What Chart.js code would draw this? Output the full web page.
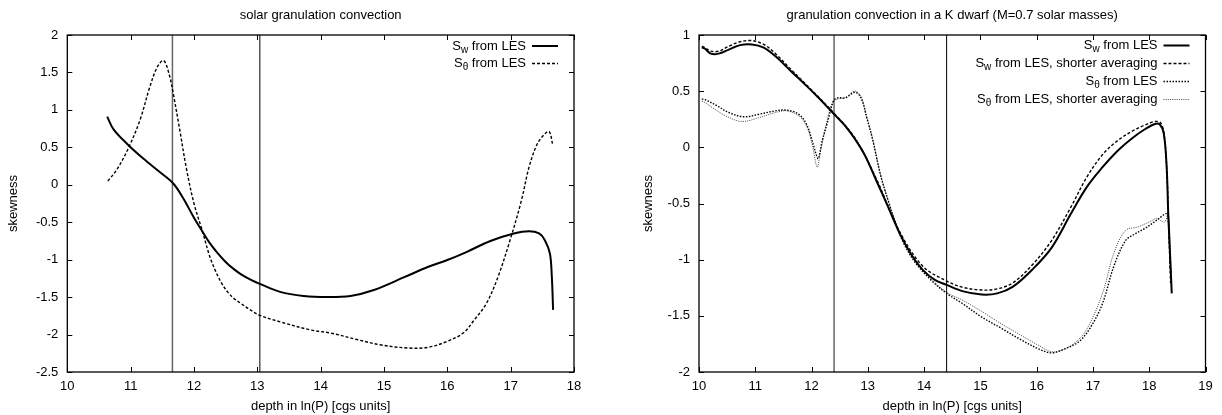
<!DOCTYPE html>
<html><head><meta charset="utf-8">
<script src="https://cdn.jsdelivr.net/npm/chart.js@4.4.1/dist/chart.umd.min.js"></script>
<style>
html,body{margin:0;padding:0;background:#fff;}
#wrap{position:relative;width:1222px;height:415px;overflow:hidden;}
.c{position:absolute;top:0;width:611px;height:415px;}
</style></head><body>
<div id="wrap">
<div class="c" style="left:0"><canvas id="left" width="611" height="415"></canvas></div>
<div class="c" style="left:611px"><canvas id="right" width="611" height="415"></canvas></div>
</div>
<script>
// ---------- texts ----------
const leftTitle = 'solar granulation convection';
const rightTitle = 'granulation convection in a K dwarf (M=0.7 solar masses)';
const xAxisTitle = 'depth in ln(P) [cgs units]';
const yAxisTitle = 'skewness';
const labelSw = 'S_{w} from LES';
const labelSw2 = 'S_{w} from LES, shorter averaging';
const labelSt = 'S_{θ} from LES';
const labelSt2 = 'S_{θ} from LES, shorter averaging';

// ---------- ticks ----------
const leftXTicks = [10, 11, 12, 13, 14, 15, 16, 17, 18];
const leftYTicks = [-2.5, -2, -1.5, -1, -0.5, 0, 0.5, 1, 1.5, 2];
const rightXTicks = [10, 11, 12, 13, 14, 15, 16, 17, 18, 19];
const rightYTicks = [-2, -1.5, -1, -0.5, 0, 0.5, 1];

// ---------- vertical markers ----------
const leftVLines = [11.66, 13.04];
const rightVLines = [12.40, 14.40];

// ---------- left panel: solar ----------
const leftSwX = [10.63, 10.73, 10.97, 11.2, 11.46, 11.67, 11.83, 12.0, 12.13, 12.25, 12.38, 12.5, 12.62, 12.75, 12.9, 13.03, 13.36, 13.73, 14.1, 14.47, 14.84, 15.33, 15.7, 16.0, 16.31, 16.68, 17.05, 17.29, 17.45, 17.54, 17.62, 17.65, 17.67];
const leftSwY = [0.91, 0.74, 0.525, 0.35, 0.17, 0.02, -0.18, -0.44, -0.62, -0.78, -0.92, -1.03, -1.12, -1.2, -1.27, -1.32, -1.43, -1.485, -1.50, -1.485, -1.405, -1.23, -1.095, -1.005, -0.895, -0.75, -0.65, -0.62, -0.65, -0.74, -0.92, -1.23, -1.67];
const leftStX = [10.64, 10.78, 10.96, 11.15, 11.3, 11.42, 11.52, 11.61, 11.67, 11.77, 11.88, 12.0, 12.13, 12.25, 12.35, 12.44, 12.53, 12.62, 12.75, 12.87, 13.03, 13.36, 13.85, 14.16, 14.59, 14.96, 15.39, 15.7, 16.0, 16.25, 16.43, 16.62, 16.8, 16.99, 17.17, 17.29, 17.42, 17.54, 17.61, 17.66];
const leftStY = [0.05, 0.2, 0.48, 0.87, 1.3, 1.57, 1.66, 1.47, 1.23, 0.76, 0.22, -0.25, -0.61, -0.96, -1.17, -1.32, -1.43, -1.51, -1.59, -1.66, -1.74, -1.83, -1.94, -1.98, -2.07, -2.14, -2.18, -2.17, -2.09, -1.98, -1.80, -1.58, -1.23, -0.74, -0.21, 0.235, 0.545, 0.68, 0.71, 0.55];

// ---------- right panel: K dwarf ----------
const rightSwX = [10.05, 10.1, 10.21, 10.35, 10.53, 10.73, 10.94, 11.15, 11.36, 11.63, 11.91, 12.12, 12.29, 12.43, 12.6, 12.77, 12.95, 13.15, 13.36, 13.57, 13.78, 13.98, 14.19, 14.4, 14.68, 15.02, 15.3, 15.58, 15.92, 16.27, 16.61, 16.89, 17.17, 17.44, 17.72, 17.93, 18.1, 18.19, 18.26, 18.31, 18.34, 18.38, 18.4];
const rightSwY = [0.89, 0.88, 0.834, 0.834, 0.87, 0.91, 0.916, 0.888, 0.81, 0.68, 0.547, 0.443, 0.354, 0.28, 0.19, 0.075, -0.073, -0.295, -0.53, -0.77, -0.96, -1.093, -1.18, -1.225, -1.28, -1.31, -1.30, -1.24, -1.09, -0.89, -0.59, -0.354, -0.177, -0.03, 0.09, 0.163, 0.208, 0.202, 0.12, -0.177, -0.62, -1.06, -1.30];
const rightSw2X = [10.05, 10.1, 10.21, 10.35, 10.53, 10.73, 10.94, 11.15, 11.36, 11.63, 11.91, 12.12, 12.43, 12.77, 13.15, 13.57, 13.98, 14.4, 14.68, 15.02, 15.3, 15.58, 15.92, 16.27, 16.61, 16.89, 17.17, 17.44, 17.72, 17.93, 18.1, 18.2, 18.26, 18.31, 18.35, 18.38];
const rightSw2Y = [0.9, 0.89, 0.856, 0.856, 0.9, 0.94, 0.95, 0.916, 0.834, 0.695, 0.556, 0.45, 0.287, 0.083, -0.28, -0.755, -1.06, -1.19, -1.245, -1.27, -1.26, -1.205, -1.048, -0.826, -0.53, -0.266, -0.065, 0.06, 0.15, 0.2, 0.23, 0.22, 0.13, -0.177, -0.77, -1.21];
const rightStX = [10.05, 10.1, 10.32, 10.53, 10.8, 11.08, 11.36, 11.56, 11.77, 11.91, 12.01, 12.08, 12.12, 12.19, 12.29, 12.39, 12.46, 12.6, 12.77, 12.88, 12.98, 13.09, 13.22, 13.36, 13.5, 13.64, 13.85, 14.12, 14.4, 14.68, 15.02, 15.37, 15.71, 16.06, 16.27, 16.47, 16.75, 16.96, 17.17, 17.37, 17.58, 17.75, 17.93, 18.13, 18.31, 18.34, 18.38];
const rightStY = [0.43, 0.426, 0.37, 0.31, 0.272, 0.296, 0.325, 0.331, 0.296, 0.207, 0.06, -0.06, -0.1, 0.06, 0.236, 0.414, 0.44, 0.44, 0.49, 0.44, 0.266, 0.06, -0.236, -0.473, -0.68, -0.857, -1.03, -1.18, -1.30, -1.39, -1.51, -1.61, -1.71, -1.80, -1.83, -1.80, -1.73, -1.60, -1.39, -1.06, -0.83, -0.77, -0.72, -0.65, -0.59, -0.65, -1.12];
const rightSt2X = [10.05, 10.1, 10.32, 10.53, 10.77, 11.08, 11.36, 11.56, 11.77, 11.91, 12.01, 12.1, 12.15, 12.25, 12.36, 12.46, 12.6, 12.77, 12.88, 12.98, 13.09, 13.22, 13.36, 13.5, 13.64, 13.85, 14.12, 14.4, 14.68, 15.02, 15.37, 15.71, 16.06, 16.27, 16.47, 16.68, 16.89, 17.17, 17.37, 17.58, 17.79, 18.0, 18.13, 18.27, 18.34, 18.38, 18.4];
const rightSt2Y = [0.41, 0.40, 0.326, 0.266, 0.23, 0.266, 0.31, 0.325, 0.28, 0.19, 0.03, -0.177, -0.06, 0.177, 0.384, 0.43, 0.443, 0.5, 0.45, 0.27, 0.065, -0.23, -0.47, -0.68, -0.84, -1.02, -1.17, -1.29, -1.36, -1.46, -1.57, -1.67, -1.77, -1.82, -1.80, -1.74, -1.62, -1.30, -0.945, -0.74, -0.71, -0.665, -0.635, -0.665, -0.59, -1.06, -1.24];

// ---------- helpers ----------
const FONT = '"Liberation Sans", Arial, Helvetica, sans-serif';
const FS = 13;
Chart.defaults.font.family = FONT;
Chart.defaults.font.size = FS;
Chart.defaults.color = '#000';

const zip = (xs, ys) => xs.map((x, i) => ({x: x, y: ys[i]}));

function series(label, xs, ys, style) {
  return Object.assign({
    label: label, data: zip(xs, ys), showLine: true, pointRadius: 0, fill: false,
    borderColor: '#000', borderWidth: 1.5, tension: 0.35
  }, style);
}
function vline(v, yMin, yMax, color, w) {
  return {data: [{x: v, y: yMin}, {x: v, y: yMax}], showLine: true, pointRadius: 0,
    borderColor: color, borderWidth: w, isVLine: true};
}

const gnuPlugin = {
  id: 'gnu',
  afterDatasetsDraw(chart, args, o) {
    const {ctx, chartArea: a} = chart;
    const xs = chart.scales.x, ys = chart.scales.y;
    ctx.save();
    ctx.strokeStyle = '#000';
    ctx.lineWidth = 1;
    ctx.beginPath();
    xs.ticks.forEach(t => {
      const px = Math.round(xs.getPixelForValue(t.value)) + 0.5;
      ctx.moveTo(px, a.bottom); ctx.lineTo(px, a.bottom - 5);
      ctx.moveTo(px, a.top); ctx.lineTo(px, a.top + 5);
    });
    ys.ticks.forEach(t => {
      const py = Math.round(ys.getPixelForValue(t.value)) + 0.5;
      ctx.moveTo(a.left, py); ctx.lineTo(a.left + 5, py);
      ctx.moveTo(a.right, py); ctx.lineTo(a.right - 5, py);
    });
    ctx.stroke();
    ctx.lineWidth = 1.3;
    ctx.strokeRect(a.left, a.top, a.right - a.left, a.bottom - a.top);

    // gnuplot-style key: right-aligned text, sample line on the right
    const re = /^(.*?)_\{(.*?)\}(.*)$/;
    const main = FS + 'px ' + FONT, subF = '10px ' + FONT;
    let row = 0;
    chart.data.datasets.forEach(ds => {
      if (!ds.label) return;
      const y = a.top + o.rowTop + row * o.rowStep;
      const m = ds.label.match(re);
      const base = m ? m[1] : ds.label, sub = m ? m[2] : '', rest = m ? m[3] : '';
      ctx.textBaseline = 'middle'; ctx.textAlign = 'left'; ctx.fillStyle = '#000';
      ctx.font = main;
      const wb = ctx.measureText(base).width, wr = ctx.measureText(rest).width;
      ctx.font = subF;
      const wsub = ctx.measureText(sub).width;
      const tr = a.right - o.textGap;
      let x0 = tr - wr - wsub - wb;
      ctx.font = main; ctx.fillText(base, x0, y);
      ctx.font = subF; ctx.fillText(sub, x0 + wb, y + 4);
      ctx.font = main; ctx.fillText(rest, x0 + wb + wsub, y);
      ctx.beginPath();
      ctx.strokeStyle = ds.borderColor; ctx.lineWidth = ds.borderWidth;
      ctx.setLineDash(ds.borderDash || []);
      ctx.moveTo(a.right - o.sampleStart, y); ctx.lineTo(a.right - o.sampleEnd, y);
      ctx.stroke();
      ctx.setLineDash([]);
      row++;
    });
    ctx.restore();
  }
};

function makeChart(id, cfg) {
  return new Chart(document.getElementById(id), {
    type: 'scatter',
    data: {datasets: cfg.datasets},
    plugins: [gnuPlugin],
    options: {
      responsive: false, animation: false, devicePixelRatio: 1,
      layout: {padding: {left: 0, right: cfg.padRight, top: 0, bottom: 0}},
      plugins: {
        legend: {display: false}, tooltip: {enabled: false},
        title: {display: true, text: cfg.title, fullSize: false, color: '#000',
          font: {size: FS, weight: 'normal'}, padding: {top: 7.2, bottom: 12.2}},
        gnu: cfg.key
      },
      scales: {
        x: {
          type: 'linear', min: cfg.xTicks[0], max: cfg.xTicks[cfg.xTicks.length - 1],
          afterBuildTicks: s => { s.ticks = cfg.xTicks.map(v => ({value: v})); },
          afterFit: s => { s.height = 43; },
          ticks: {padding: 6.2, maxRotation: 0, autoSkip: false, color: '#000', font: {size: FS}, callback: v => String(v)},
          grid: {display: false, drawTicks: false}, border: {display: false},
          title: {display: true, text: xAxisTitle, color: '#000', font: {size: FS}, padding: {top: 0, bottom: 1.2}}
        },
        y: {
          type: 'linear', min: cfg.yTicks[0], max: cfg.yTicks[cfg.yTicks.length - 1],
          afterBuildTicks: s => { s.ticks = cfg.yTicks.map(v => ({value: v})); },
          afterFit: s => { s.width = cfg.yWidth; },
          ticks: {padding: 9, autoSkip: false, color: '#000', font: {size: FS}, callback: v => String(v)},
          grid: {display: false, drawTicks: false}, border: {display: false},
          title: {display: true, text: yAxisTitle, color: '#000', font: {size: FS}, padding: {top: cfg.yTitlePad, bottom: 0}}
        }
      }
    }
  });
}

makeChart('left', {
  title: leftTitle, xTicks: leftXTicks, yTicks: leftYTicks,
  padRight: 37, yWidth: 67.3, yTitlePad: 5.5,
  key: {rowTop: 11, rowStep: 17.5, textGap: 48, sampleStart: 42, sampleEnd: 16},
  datasets: [
    series(labelSw, leftSwX, leftSwY, {borderWidth: 2}),
    series(labelSt, leftStX, leftStY, {borderWidth: 1.4, borderDash: [3, 2]}),
    vline(leftVLines[0], -2.5, 2, '#666', 1.5),
    vline(leftVLines[1], -2.5, 2, '#000', 1)
  ]
});

makeChart('right', {
  title: rightTitle, xTicks: rightXTicks, yTicks: rightYTicks,
  padRight: 16.5, yWidth: 88, yTitlePad: 29.2,
  key: {rowTop: 10.5, rowStep: 18, textGap: 48, sampleStart: 42, sampleEnd: 16},
  datasets: [
    series(labelSw, rightSwX, rightSwY, {borderWidth: 2}),
    series(labelSw2, rightSw2X, rightSw2Y, {borderWidth: 1.4, borderDash: [3, 2]}),
    series(labelSt, rightStX, rightStY, {borderWidth: 1.4, borderDash: [1.5, 1.5]}),
    series(labelSt2, rightSt2X, rightSt2Y, {borderWidth: 1, borderDash: [1, 1.2], borderColor: '#444'}),
    vline(rightVLines[0], -2, 1, '#666', 1.5),
    vline(rightVLines[1], -2, 1, '#000', 1)
  ]
});
</script>
</body></html>
